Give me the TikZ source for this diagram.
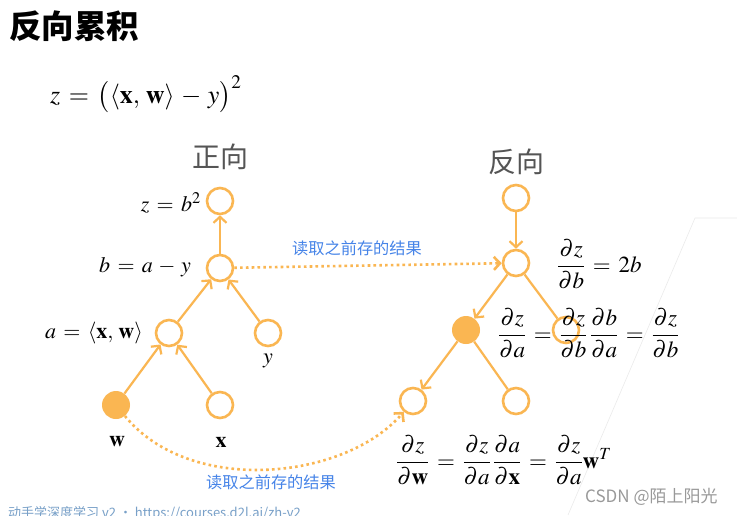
\documentclass[tikz,border=0pt]{standalone}
\usepackage{amsmath}
\usepackage{mathptmx}
\usepackage{fontspec}
\usetikzlibrary{arrows.meta}
\newfontfamily\cjk{Noto Sans CJK SC}
\definecolor{org}{RGB}{250,182,82}
\definecolor{blu}{RGB}{70,132,232}
\definecolor{gry}{RGB}{85,85,85}
\definecolor{foot}{RGB}{120,160,200}
\tikzset{
  nd/.style={circle,minimum size=26pt,inner sep=0pt,draw=org,line width=2.6pt,fill=white},
  ndf/.style={circle,minimum size=28pt,inner sep=0pt,fill=org},
  edge/.style={draw=org,line width=2.2pt},
  arr/.style={-{Straight Barb[length=6pt,width=13pt]}},
  dotl/.style={draw=org,line width=2.6pt,dash pattern=on 2.6pt off 3.2pt},
  mth/.style={inner sep=0pt,font=\fontsize{22}{26}\selectfont},
  frc/.style={inner sep=0pt,font=\fontsize{23}{27}\selectfont},
  lbl/.style={inner sep=0pt,text=blu,font=\cjk\fontsize{16.2}{19}\selectfont},
  hdr/.style={inner sep=0pt,text=gry,font=\cjk\fontsize{28}{31}\selectfont}
}
\newcommand{\eqq}{\mathrel{\,=\,}}
\newcommand{\mns}{\mathbin{\,-\,}}
\begin{document}
\begin{tikzpicture}[x=1pt,y=-1pt]
\useasboundingbox[fill=white] (0,0) rectangle (737,515);
% slide edge lines
\draw[line width=0.6pt,color=black!8] (737,218) -- (695,218) -- (568,515);
% title
\node[inner sep=0pt,anchor=west,font=\cjk\bfseries\fontsize{32.5}{35}\selectfont] (title) at (9,26) {反向累积};
\node[inner sep=0pt,anchor=west,font=\fontsize{26}{30}\selectfont] (form) at (50,94) {$z\eqq\big(\langle\mathbf{x},\,\mathbf{w}\rangle\mns y\big)^2$};
\node[hdr] (fwd) at (220,157) {正向};
\node[hdr] (bwd) at (516,162) {反向};
% left tree
\node[nd] (z) at (220,201) {};
\node[nd] (b) at (220,268) {};
\node[nd] (a) at (169,333) {};
\node[nd] (y) at (268,333) {};
\node[ndf] (w) at (116,405) {};
\node[nd] (x) at (220,405) {};
\draw[edge,arr] (b) -- (z);
\draw[edge,arr] (a) -- (b);
\draw[edge,arr] (y) -- (b);
\draw[edge,arr] (w) -- (a);
\draw[edge,arr] (x) -- (a);
\node[mth,anchor=east] (lz) at (201,203) {$z\eqq b^2$};
\node[mth,anchor=east] (lb) at (191,267) {$b\eqq a\mns y$};
\node[mth,anchor=east] (la) at (143,333) {$a\eqq\langle\mathbf{x},\,\mathbf{w}\rangle$};
\node[mth] (ly) at (268,361) {$y$};
\node[mth] (lw) at (117,442) {$\mathbf{w}$};
\node[mth] (lx) at (221,442) {$\mathbf{x}$};
% right tree
\node[nd] (rz) at (516,198) {};
\node[nd] (rb) at (516,263) {};
\node[ndf] (ra) at (466,330) {};
\node[nd] (ry) at (566,330) {};
\node[nd] (rw) at (413,401) {};
\node[nd] (rx) at (516,401) {};
\draw[edge,arr] (rz) -- (rb);
\draw[edge,arr] (rb) -- (ra);
\draw[edge] (rb) -- (ry);
\draw[edge,arr] (ra) -- (rw);
\draw[edge] (ra) -- (rx);
% dotted connectors
\draw[dotl,arr] (b) -- (rb);
\node[lbl] (t1) at (357,248) {读取之前存的结果};
\draw[dotl,arr] (w) .. controls (190,496) and (345,480) .. (rw);
\node[lbl] (t2) at (271,482) {读取之前存的结果};
% right formulas
\node[frc,anchor=west] (f1) at (557,264) {$\dfrac{\partial z}{\partial b}\eqq 2b$};
\node[frc,anchor=west] (f2) at (498,333) {$\dfrac{\partial z}{\partial a}\eqq\dfrac{\partial z}{\partial b}\,\dfrac{\partial b}{\partial a}\eqq\dfrac{\partial z}{\partial b}$};
\node[frc,anchor=west] (f3) at (396,460) {$\dfrac{\partial z}{\partial \mathbf{w}}\eqq\dfrac{\partial z}{\partial a}\,\dfrac{\partial a}{\partial \mathbf{x}}\eqq\dfrac{\partial z}{\partial a}\mathbf{w}^T$};
% footer
\node[inner sep=0pt,anchor=west,text=foot,font=\cjk\fontsize{13}{15}\selectfont] (ft) at (8,513) {动手学深度学习 v2 • https://courses.d2l.ai/zh-v2};
\node[inner sep=0pt,anchor=west,text=black!40,font=\cjk\fontsize{17}{20}\selectfont] (wm) at (585,497) {CSDN @陌上阳光};
\end{tikzpicture}
\end{document}
